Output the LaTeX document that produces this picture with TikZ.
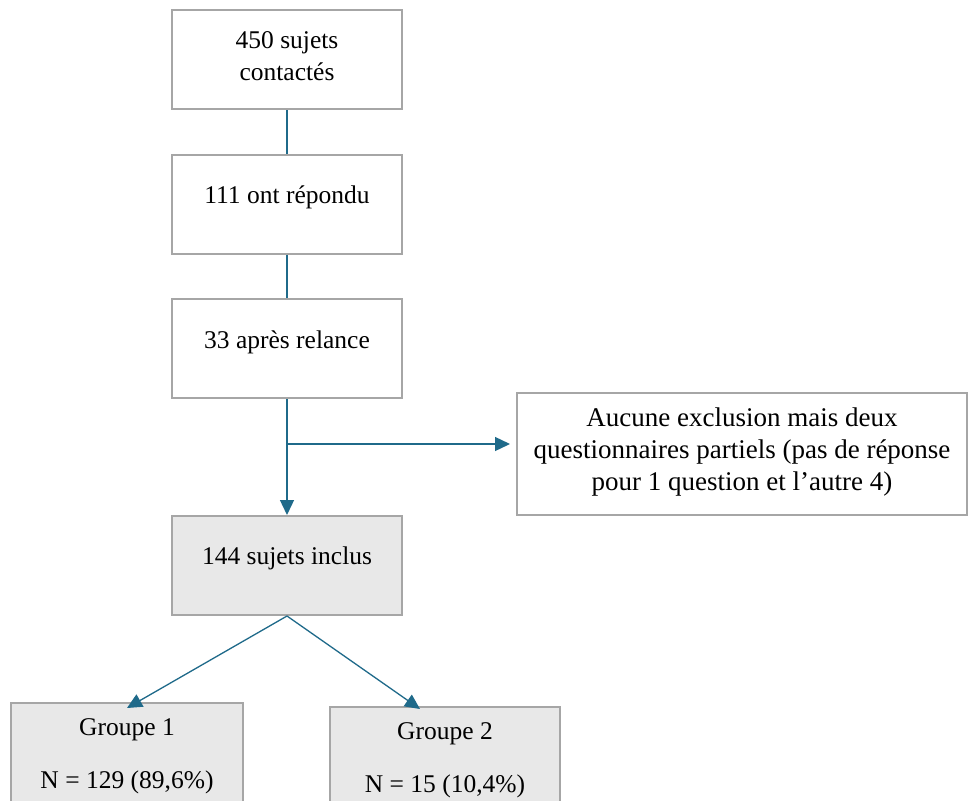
\documentclass[tikz,border=0pt]{standalone}
\usepackage{fontspec}
\setmainfont{Liberation Serif}
\usetikzlibrary{arrows.meta}
\definecolor{boxgray}{HTML}{A6A6A6}
\definecolor{fillgray}{HTML}{E8E8E8}
\definecolor{linkblue}{HTML}{1F6A8A}
\begin{document}
\begin{tikzpicture}[x=1pt,y=-1pt,
  box/.style={draw=boxgray,line width=2pt,minimum width=230pt,minimum height=99pt,inner sep=0pt},
  graybox/.style={box,fill=fillgray},
  txt/.style={font=\fontsize{25.5}{32}\selectfont,align=center,inner sep=0pt},
  sidetxt/.style={txt,font=\fontsize{27}{32}\selectfont},
  link/.style={draw=linkblue,line width=1.3pt},
  arr/.style={link,-{Triangle[length=15pt,width=14pt]}}]
\clip (0,0) rectangle (968,800);
\fill[white] (0,0) rectangle (968,800);
\node[box] (b1) at (287,59.5) {};
\node[txt] (t1) at (287,56) {450 sujets\\contactés};
\node[box] (b2) at (287,204) {};
\node[txt] (t2) at (287,197) {111 ont répondu};
\node[box] (b3) at (287,348.5) {};
\node[txt] (t3) at (287,342) {33 après relance};
\node[box,minimum width=450pt,minimum height=122pt] (side) at (742,453.5) {};
\node[sidetxt] (ts) at (742,452) {Aucune exclusion mais deux\\questionnaires partiels (pas de réponse\\pour 1 question et l’autre 4)};
\node[graybox] (b4) at (287,565.5) {};
\node[txt] (t4) at (287,558) {144 sujets inclus};
\node[graybox,minimum width=232pt] (g1) at (127,752.5) {};
\node[txt] (tg1) at (127,730) {Groupe 1};
\node[txt] (ng1) at (127,782) {N = 129 (89,6\%)};
\node[graybox,minimum width=230pt] (g2) at (445,756.5) {};
\node[txt] (tg2) at (445,734) {Groupe 2};
\node[txt] (ng2) at (445,786) {N = 15 (10,4\%)};
\coordinate (j) at (287,444);
\draw[link] (b1.south) -- (b2.north);
\draw[link] (b2.south) -- (b3.north);
\draw[arr] (b3.south) -- (b4.north);
\draw[arr] (j) -- ([xshift=-6pt]side.west |- j);
\draw[arr] (b4.south) -- ([yshift=-6pt]g1.north);
\draw[arr] (b4.south) -- ([xshift=-25pt,yshift=-3pt]g2.north);
\end{tikzpicture}
\end{document}
